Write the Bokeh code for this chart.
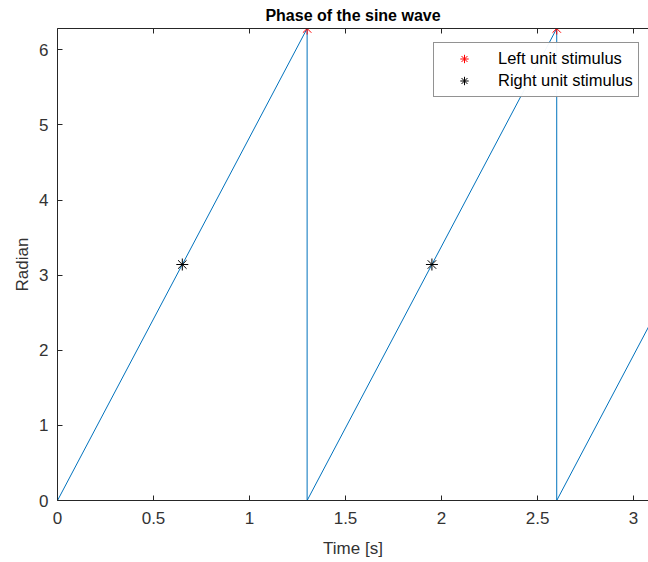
from bokeh.plotting import figure
from bokeh.models import Range1d, LinearAxis, FixedTicker, Legend, LegendItem
from bokeh.embed import file_html
from bokeh.resources import INLINE

# Phase sawtooth (period 1.3 s)
time_s = [0.0, 1.3, 1.3, 2.6, 2.6, 3.1]
phase_rad = [0.0, 6.2832, 0.0, 6.2832, 0.0, 2.4166]

left_t = [1.3, 2.6]
left_phase = [6.2832, 6.2832]
right_t = [0.65, 1.95]
right_phase = [3.1416, 3.1416]

x_ticks = [0, 0.5, 1, 1.5, 2, 2.5, 3]
y_ticks = [0, 1, 2, 3, 4, 5, 6]

FONT = "Liberation Sans"
AX = "#262626"
TXT = "#333333"

p = figure(width=648, height=562, output_backend="svg", toolbar_location=None,
           x_range=Range1d(0, 3.078), y_range=Range1d(0, 6.2832),
           min_border_left=57, min_border_right=0, min_border_top=28, min_border_bottom=62,
           title="Phase of the sine wave")
p.outline_line_color = None
p.grid.visible = False
p.background_fill_color = "white"
p.border_fill_color = "white"

p.title.align = "center"
p.title.vertical_align = "top"
p.title.text_font = FONT
p.title.text_font_size = "16px"
p.title.text_font_style = "bold"
p.title.text_color = "black"
p.title.offset = 0
p.title.standoff = 6

for ax in (p.xaxis[0], p.yaxis[0]):
    ax.major_tick_in = 5
    ax.major_tick_out = 0
    ax.minor_tick_in = 0
    ax.minor_tick_out = 0
    ax.axis_line_color = AX
    ax.major_tick_line_color = AX
    ax.major_label_text_font = FONT
    ax.major_label_text_font_size = "17px"
    ax.major_label_text_color = TXT
    ax.axis_label_text_font = FONT
    ax.axis_label_text_font_size = "17px"
    ax.axis_label_text_font_style = "normal"
    ax.axis_label_text_color = TXT

p.xaxis[0].ticker = FixedTicker(ticks=x_ticks)
p.yaxis[0].ticker = FixedTicker(ticks=y_ticks)
p.xaxis[0].axis_label = "Time [s]"
p.yaxis[0].axis_label = "Radian"
p.xaxis[0].major_label_standoff = 11
p.yaxis[0].major_label_standoff = 9
p.xaxis[0].axis_label_standoff = 12
p.yaxis[0].axis_label_standoff = 4

top = LinearAxis(ticker=FixedTicker(ticks=x_ticks))
top.major_tick_in = 5
top.major_tick_out = 0
top.minor_tick_in = 0
top.minor_tick_out = 0
top.axis_line_color = AX
top.major_tick_line_color = AX
top.major_label_text_font_size = "0px"
top.major_label_standoff = 0
p.add_layout(top, "above")

p.line(time_s, phase_rad, line_color="#0072BD", line_width=1)
r_left = p.scatter(left_t, left_phase, marker="asterisk", size=12,
                   line_color="#FF0000", line_width=1)
r_right = p.scatter(right_t, right_phase, marker="asterisk", size=12,
                    line_color="black", line_width=1)

legend = Legend(items=[LegendItem(label="Left unit stimulus", renderers=[r_left]),
                       LegendItem(label="Right unit stimulus", renderers=[r_right])],
                location=(376, 403))
legend.border_line_color = AX
legend.border_line_width = 1
legend.label_text_font = FONT
legend.label_text_font_size = "16.5px"
legend.label_text_color = "black"
legend.padding = 5
legend.spacing = 1
legend.glyph_width = 50
legend.label_standoff = 9
legend.label_height = 21
legend.glyph_height = 21
legend.margin = 0
p.add_layout(legend, "center")

open("out.html", "w").write(file_html(p, INLINE))
